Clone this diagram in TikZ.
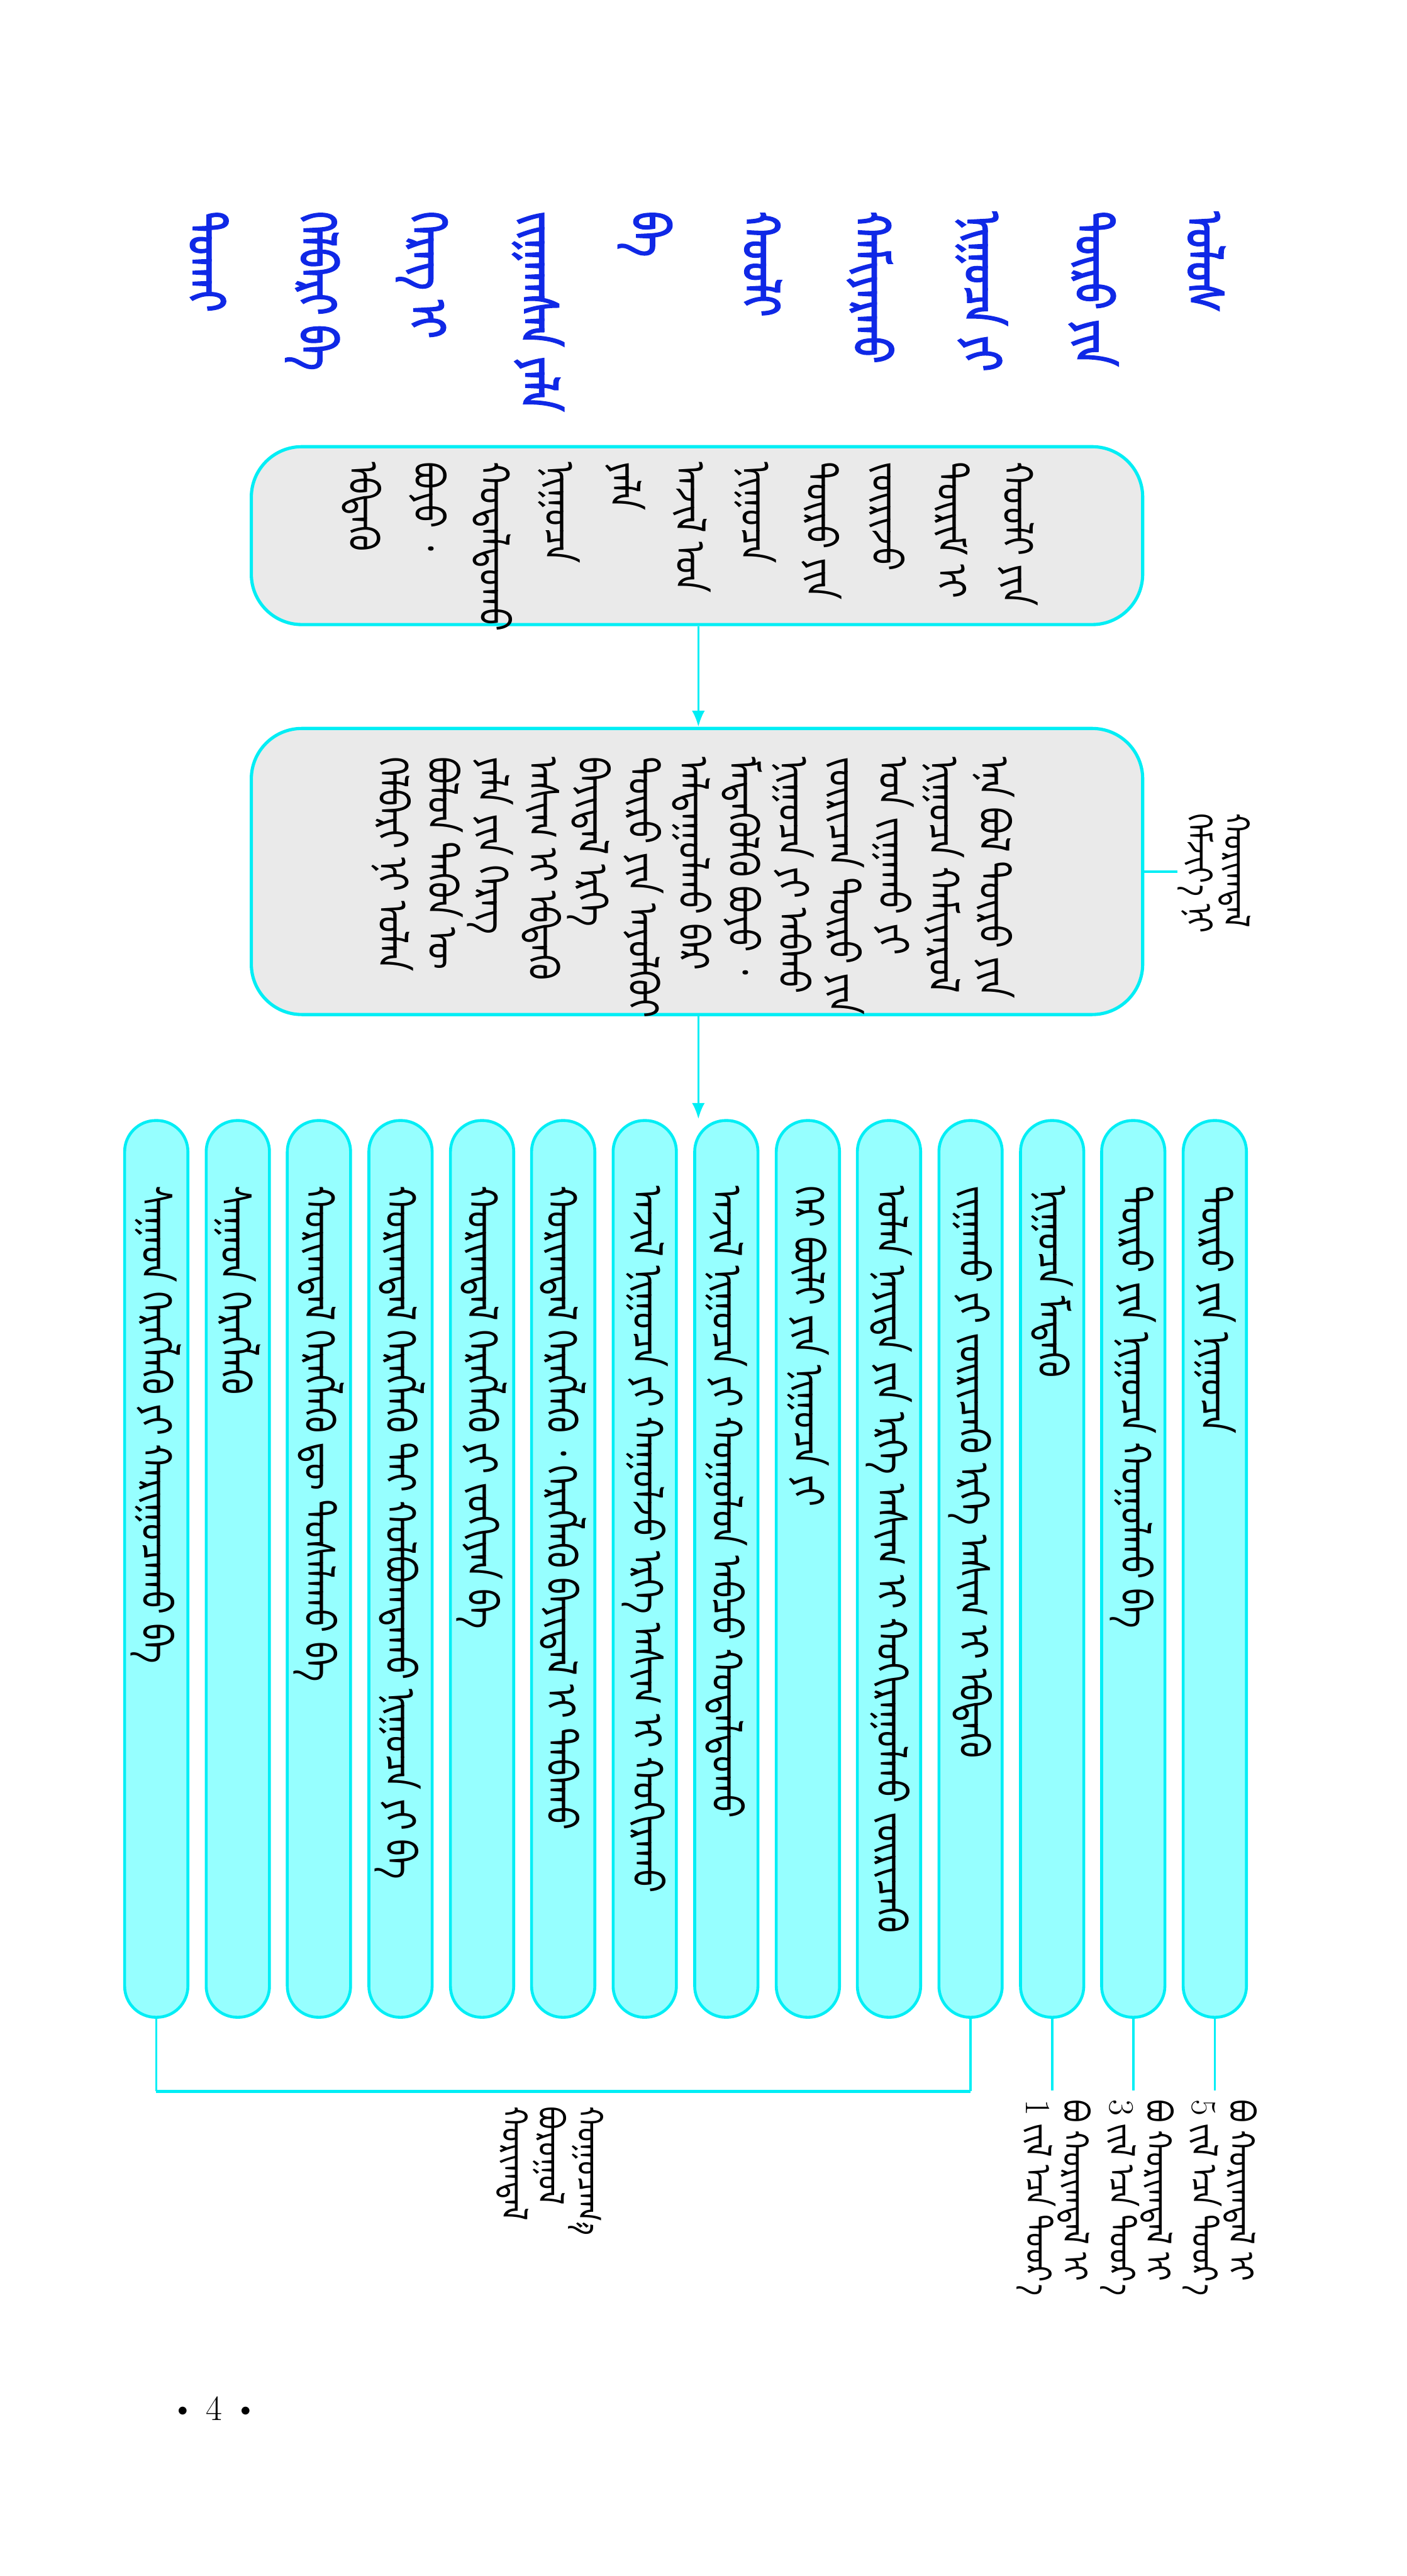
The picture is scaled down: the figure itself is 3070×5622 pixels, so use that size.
\documentclass[tikz,border=0pt]{standalone}
\usepackage{fontspec}
\usetikzlibrary{arrows.meta,positioning}
\IfFontExistsTF{Noto Sans Mongolian}
 {\newfontfamily\mongfont[Script=Mongolian,FakeStretch=0.82]{Noto Sans Mongolian}
  \newfontfamily\mongbold[Script=Mongolian,FakeBold=2.5,FakeStretch=0.75]{Noto Sans Mongolian}}
 {\newfontfamily\mongfont{DejaVu Sans}\newfontfamily\mongbold{DejaVu Sans}}
\definecolor{titleblue}{RGB}{15,40,230}
\definecolor{linecyan}{RGB}{0,238,245}
\definecolor{boxgrey}{RGB}{234,234,234}
\definecolor{barcyan}{RGB}{150,255,255}

\begin{document}
\begin{tikzpicture}[x=0.01cm,y=-0.01cm,
  greybox/.style={draw=linecyan,line width=2pt,fill=boxgrey,rounded corners=1.1cm,minimum width=19.44cm},
  barbox/.style={draw=linecyan,line width=1.8pt,fill=barcyan,rounded corners=0.68cm,minimum width=1.38cm,minimum height=19.56cm},
  mongtext/.style={rotate=-90,anchor=west,inner sep=0pt,align=left,font=\mongfont\fontsize{26}{40.6}\selectfont},
  titletext/.style={mongtext,text=titleblue,font=\mongbold\fontsize{32}{68.8}\selectfont},
  labeltext/.style={mongtext,font=\mongfont\fontsize{22}{22.8}\selectfont},
  link/.style={draw=linecyan,line width=1.4pt},
  flow/.style={link,-{Latex[length=0.35cm,width=0.28cm]}}]
\useasboundingbox (0,0) rectangle (3070,5622);

% title
\node[titletext] (title) at (1542,461) {ᠤᠯᠤᠰ\\ᠲᠥᠷᠦ ᠶᠢᠨ\\ᠨᠢᠭᠤᠴᠠ ᠶᠢ\\ᠬᠠᠮᠢᠶᠠᠷᠬᠤ\\ᠬᠤᠤᠯᠢ\\ᠪᠠ\\ᠵᠢᠭᠠᠭᠰᠠᠨ ᠶᠠᠯᠠ\\ᠬᠡᠷᠡᠭ ᠢ\\ᠬᠡᠯᠪᠡᠷᠢ ᠪᠠ\\ᠲᠤᠬᠠᠢ};

% definition and description
\node[greybox,minimum height=3.88cm] (def) at (1521,1169) {};
\node[mongtext] (deftext) at (1506,1008) {ᠬᠤᠤᠯᠢ ᠶᠢᠨ\\ᠳᠦᠷᠢᠮ ᠢ\\ᠵᠥᠷᠢᠵᠦ\\ᠲᠥᠷᠦ ᠶᠢᠨ\\ᠨᠢᠭᠤᠴᠠ\\ᠠᠵᠢᠯ ᠤᠨ\\ᠶᠠᠯᠠ\\ᠨᠢᠭᠤᠴᠠ\\ᠬᠤᠳᠠᠯᠳᠤᠬᠤ\\ᠪᠤᠶᠤ ᠂\\ᠡᠪᠳᠡᠬᠦ};
\node[greybox,minimum height=6.24cm] (desc) at (1521,1902) {};
\node[mongtext,font=\mongfont\fontsize{26}{31.1}\selectfont] (desctext) at (1512,1651) {ᠡᠨᠡ ᠪᠣᠯ ᠲᠥᠷᠦ ᠶᠢᠨ\\ᠨᠢᠭᠤᠴᠠ ᠬᠠᠮᠢᠶᠠᠷᠤᠯ\\ᠤᠨ ᠵᠢᠭᠠᠬᠤ ᠶᠢ\\ᠵᠥᠷᠢᠴᠡᠨ ᠲᠥᠷᠦ ᠶᠢᠨ\\ᠨᠢᠭᠤᠴᠠ ᠶᠢ ᠠᠪᠬᠤ\\ᠮᠡᠳᠡᠭᠦᠯᠬᠦ ᠪᠤᠶᠤ ᠂\\ᠠᠯᠳᠠᠭᠤᠯᠬᠤ ᠪᠡᠷ\\ᠲᠥᠷᠦ ᠶᠢᠨ ᠠᠶᠤᠯᠭᠦᠢ\\ᠪᠠᠶᠢᠳᠠᠯ ᠡᠷᠬᠡ\\ᠠᠰᠢᠭ ᠢ ᠡᠪᠳᠡᠬᠦ\\ᠶᠠᠯᠠ ᠶᠢᠨ ᠬᠡᠷᠡᠭ\\ᠪᠣᠯᠤᠨ ᠲᠡᠭᠦᠨ ᠦ\\ᠬᠡᠯᠪᠡᠷᠢ ᠨᠢ ᠣᠯᠠᠨ};
\node[labeltext] (desclabel) at (2650,1775) {ᠬᠣᠷᠢᠭᠳᠠᠯ\\ᠬᠡᠮᠵᠢᠶ᠎ᠡ ᠨᠢ};
\draw[link] (desc.east) -- (desc.east -| desclabel.south);

% the fourteen forms
\node[barbox] (b1) at (2651,3424) {};
\node[barbox] (b2) at (2473,3424) {};
\node[barbox] (b3) at (2296,3424) {};
\node[barbox] (b4) at (2118,3424) {};
\node[barbox] (b5) at (1940,3424) {};
\node[barbox] (b6) at (1763,3424) {};
\node[barbox] (b7) at (1585,3424) {};
\node[barbox] (b8) at (1407,3424) {};
\node[barbox] (b9) at (1229,3424) {};
\node[barbox] (b10) at (1052,3424) {};
\node[barbox] (b11) at (874,3424) {};
\node[barbox] (b12) at (696,3424) {};
\node[barbox] (b13) at (519,3424) {};
\node[barbox] (b14) at (341,3424) {};
\node[mongtext] (t1) at ([yshift=-1.45cm]b1.north) {ᠲᠥᠷᠦ ᠶᠢᠨ ᠨᠢᠭᠤᠴᠠ};
\node[mongtext] (t2) at ([yshift=-1.45cm]b2.north) {ᠲᠥᠷᠦ ᠶᠢᠨ ᠨᠢᠭᠤᠴᠠ ᠬᠤᠭᠤᠯᠬᠤ ᠪᠠ};
\node[mongtext] (t3) at ([yshift=-1.45cm]b3.north) {ᠨᠢᠭᠤᠴᠠ ᠮᠡᠳᠡᠬᠦ};
\node[mongtext] (t4) at ([yshift=-1.45cm]b4.north) {ᠵᠢᠭᠠᠬᠤ ᠶᠢ ᠵᠥᠷᠢᠴᠡᠬᠦ ᠡᠷᠬᠡ ᠠᠰᠢᠭ ᠢ ᠡᠪᠳᠡᠬᠦ};
\node[mongtext] (t5) at ([yshift=-1.45cm]b5.north) {ᠣᠯᠠᠨ ᠨᠡᠶᠢᠲᠡ ᠶᠢᠨ ᠡᠷᠬᠡ ᠠᠰᠢᠭ ᠢ ᠬᠣᠬᠢᠷᠠᠭᠤᠯᠬᠤ ᠵᠥᠷᠢᠴᠡᠬᠦ};
\node[mongtext] (t6) at ([yshift=-1.45cm]b6.north) {ᠭᠡᠷ ᠪᠦᠯᠢ ᠶᠢᠨ ᠨᠢᠭᠤᠴᠠ ᠶᠢ};
\node[mongtext] (t7) at ([yshift=-1.45cm]b7.north) {ᠠᠵᠢᠯ ᠨᠢᠭᠤᠴᠠ ᠶᠢ ᠬᠤᠭᠤᠯᠤᠨ ᠠᠪᠴᠤ ᠬᠤᠳᠠᠯᠳᠤᠬᠤ};
\node[mongtext] (t8) at ([yshift=-1.45cm]b8.north) {ᠠᠵᠢᠯ ᠨᠢᠭᠤᠴᠠ ᠶᠢ ᠬᠠᠭᠤᠯᠵᠤ ᠡᠷᠬᠡ ᠠᠰᠢᠭ ᠢ ᠬᠣᠬᠢᠷᠠᠬᠤ};
\node[mongtext] (t9) at ([yshift=-1.45cm]b9.north) {ᠬᠣᠷᠢᠭᠳᠠᠯ ᠬᠡᠷᠡᠭᠯᠡᠬᠦ ᠂ ᠬᠡᠷᠡᠭᠯᠡᠬᠦ ᠪᠠᠶᠢᠳᠠᠯ ᠢ ᠳᠠᠪᠠᠬᠤ};
\node[mongtext] (t10) at ([yshift=-1.45cm]b10.north) {ᠬᠣᠷᠢᠭᠳᠠᠯ ᠬᠡᠷᠡᠭᠯᠡᠬᠦ ᠶᠢ ᠵᠣᠬᠢᠶᠠᠨ ᠪᠠ};
\node[mongtext] (t11) at ([yshift=-1.45cm]b11.north) {ᠬᠣᠷᠢᠭᠳᠠᠯ ᠬᠡᠷᠡᠭᠯᠡᠬᠦ ᠲᠠᠢ ᠬᠣᠯᠪᠣᠭᠳᠠᠬᠤ ᠨᠢᠭᠤᠴᠠ ᠶᠢ ᠪᠠ};
\node[mongtext] (t12) at ([yshift=-1.45cm]b12.north) {ᠬᠣᠷᠢᠭᠳᠠᠯ ᠬᠡᠷᠡᠭᠯᠡᠬᠦ ᠳᠦ ᠲᠤᠰᠠᠯᠠᠬᠤ ᠪᠠ};
\node[mongtext] (t13) at ([yshift=-1.45cm]b13.north) {ᠰᠠᠭᠠᠳ ᠬᠡᠷᠡᠭᠯᠡᠬᠦ};
\node[mongtext] (t14) at ([yshift=-1.45cm]b14.north) {ᠰᠠᠭᠠᠳ ᠬᠡᠷᠡᠭᠯᠡᠬᠦ ᠶᠢ ᠬᠠᠷᠢᠭᠤᠴᠠᠬᠤ ᠪᠠ};

\draw[flow] (def.south -| 1524,0) -- (desc.north -| 1524,0);
\draw[flow] (desc.south -| 1524,0) -- (b7.north -| 1524,0);

% terms of punishment
\node[labeltext] (lab5) at (2662,4582) {ᠪᠤ ᠬᠣᠷᠢᠭᠳᠠᠯ ᠢ\\{\rmfamily 5} ᠵᠢᠯ ᠡᠴᠡ ᠳᠣᠣᠷ᠎ᠠ};
\node[labeltext] (lab3) at (2482,4582) {ᠪᠤ ᠬᠣᠷᠢᠭᠳᠠᠯ ᠢ\\{\rmfamily 3} ᠵᠢᠯ ᠡᠴᠡ ᠳᠣᠣᠷ᠎ᠠ};
\node[labeltext] (lab1) at (2300,4582) {ᠪᠤ ᠬᠣᠷᠢᠭᠳᠠᠯ ᠢ\\{\rmfamily 1} ᠵᠢᠯ ᠡᠴᠡ ᠳᠣᠣᠷ᠎ᠠ};
\draw[link,shorten >=0.2cm] (b1.south) -- (b1.south |- lab5.west);
\draw[link,shorten >=0.2cm] (b2.south) -- (b2.south |- lab3.west);
\draw[link,shorten >=0.2cm] (b3.south) -- (b3.south |- lab1.west);

\coordinate (brk) at (0,4564);
\draw[link] (b4.south) -- (b4.south |- brk);
\draw[link] (b14.south) -- (b14.south |- brk);
\draw[link,line width=2pt] (b4.south |- brk) -- (b14.south |- brk);
\node[labeltext] (restlab) at (1200,4596) {ᠬᠤᠭᠤᠴᠠᠭ᠎ᠠ\\ᠪᠣᠷᠣᠭᠣᠯ\\ᠬᠣᠷᠢᠭᠳᠠᠯ};

\node[font=\fontsize{22}{26}\selectfont] (pagenum) at (468,5257) {\textbullet\ 4 \textbullet};
\end{tikzpicture}
\end{document}
